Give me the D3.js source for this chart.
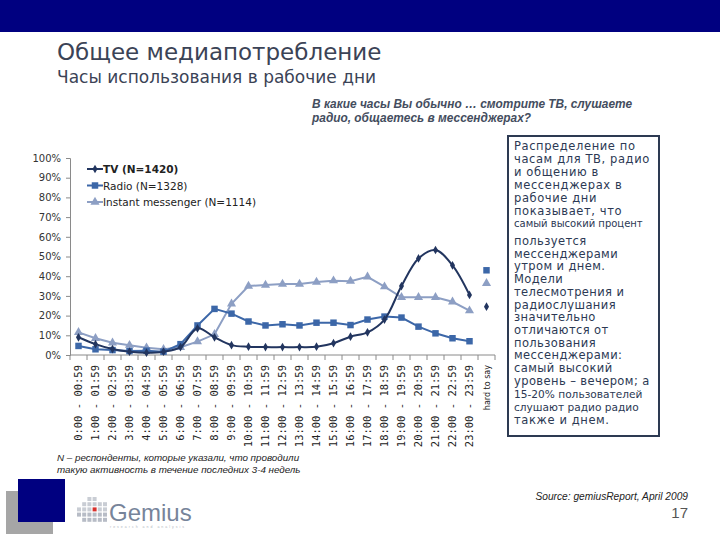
<!DOCTYPE html>
<html>
<head>
<meta charset="utf-8">
<script src="https://cdn.jsdelivr.net/npm/d3@7"></script>
<style>
  body { margin: 0; background: #fff; }
  svg { display: block; font-family: "DejaVu Sans", Verdana, sans-serif; }
</style>
</head>
<body>
<div id="chart"></div>
<script>
// categories (24 hours + "hard to say")
var hours = ["0:00 - 00:59", "1:00 - 01:59", "2:00 - 02:59", "3:00 - 03:59", "4:00 - 04:59",
  "5:00 - 05:59", "6:00 - 06:59", "7:00 - 07:59", "8:00 - 08:59", "9:00 - 09:59",
  "10:00 - 10:59", "11:00 - 11:59", "12:00 - 12:59", "13:00 - 13:59", "14:00 - 14:59",
  "15:00 - 15:59", "16:00 - 16:59", "17:00 - 17:59", "18:00 - 18:59", "19:00 - 19:59",
  "20:00 - 20:59", "21:00 - 21:59", "22:00 - 22:59", "23:00 - 23:59"]
var hardToSay = "hard to say"

var tvValues    = [9, 5.5, 3, 1.7, 1.2, 1.7, 4, 13.5, 9, 5, 4.2, 4, 4, 4, 4.2, 6, 9.3, 11.5, 18, 35, 49, 53.3, 45.5, 30.5]
var radioValues = [4.6, 2.9, 2.5, 2, 2.2, 1.7, 5.5, 15, 23.4, 21, 17, 15, 15.6, 15, 16.4, 16.4, 15.2, 18, 19.5, 19, 14.4, 11, 8.5, 7]
var imValues    = [11.5, 8.5, 6.2, 5, 3.7, 2.9, 3.9, 6.8, 10.5, 26, 35, 35.5, 36, 36, 37, 37.7, 37.5, 39.7, 34.7, 29.3, 29.3, 29.3, 27, 22.5]
var hardValues  = { tv: 24.5, radio: 43, im: 36.4 }

var yTicks = [0, 10, 20, 30, 40, 50, 60, 70, 80, 90, 100]

var series = [
  { key: "tv", name: "TV (N=1420)", values: tvValues, color: "#22355f", marker: "diamond", smooth: true },
  { key: "radio", name: "Radio (N=1328)", values: radioValues, color: "#3c67a8", marker: "square", smooth: false },
  { key: "im", name: "Instant messenger (N=1114)", values: imValues, color: "#8d9fc4", marker: "triangle", smooth: false }
]

var textLines = [
  "Распределение по", "часам для ТВ, радио", "и общению в", "мессенджерах в",
  "рабочие дни", "показывает, что"
]
var textSmall = "самый высокий процент"
var textLines2 = [
  "пользуется", "мессенджерами", "утром и днем.", "Модели", "телесмотрения и",
  "радиослушания", "значительно", "отличаются от", "пользования", "мессенджерами:",
  "самый высокий", "уровень – вечером; а"
]
var textLines3 = ["15-20% пользователей", "слушают радио радио"]
var textLast = "также и днем."

var W = 720, H = 540
var svg = d3.select("#chart").append("svg").attr("width", W).attr("height", H)

// header bar
svg.append("rect").attr("x", 0).attr("y", 0).attr("width", W).attr("height", 32).attr("fill", "#000080")

svg.append("text").attr("x", 57).attr("y", 60)
  .attr("font-size", 23).attr("fill", "#3b4356")
  .text("Общее медиапотребление")
svg.append("text").attr("x", 57).attr("y", 83)
  .attr("font-size", 17).attr("fill", "#3b4356")
  .text("Часы использования в рабочие дни")

var q = svg.append("g").attr("font-family", "'Liberation Sans', Arial, sans-serif")
  .attr("font-style", "italic").attr("font-weight", "bold").attr("font-size", 11.9).attr("fill", "#444d5e")
q.append("text").attr("x", 312).attr("y", 108).text("В какие часы Вы обычно … смотрите ТВ, слушаете")
q.append("text").attr("x", 312).attr("y", 122).text("радио, общаетесь в мессенджерах?")

// chart
var margin = { left: 70, top: 158 }
var plotW = 425, plotH = 197

var x = d3.scaleBand().domain(hours.concat([hardToSay])).range([margin.left, margin.left + plotW])
var y = d3.scaleLinear().domain([0, 100]).range([margin.top + plotH, margin.top])

var yAxis = svg.append("g")
  .attr("transform", "translate(" + margin.left + ",0)")
  .call(d3.axisLeft(y).tickValues(yTicks).tickSize(4).tickFormat(d => d + "%"))
yAxis.select(".domain").attr("stroke", "#8a8a8a")
yAxis.selectAll(".tick line").attr("stroke", "#8a8a8a")
yAxis.selectAll(".tick text").attr("font-family", "'DejaVu Sans', Verdana, sans-serif")
  .attr("font-size", 10).attr("fill", "#333").attr("x", -9)

var xAxisG = svg.append("g").attr("transform", "translate(0," + (margin.top + plotH) + ")")
xAxisG.append("line").attr("x1", margin.left).attr("x2", margin.left + plotW)
  .attr("stroke", "#8a8a8a")
var bounds = x.domain().map(d => x(d)).concat([margin.left + plotW])
xAxisG.selectAll(".xt").data(bounds).enter().append("line")
  .attr("x1", d => d).attr("x2", d => d).attr("y1", 0).attr("y2", 5).attr("stroke", "#8a8a8a")
xAxisG.selectAll(".xl").data(x.domain()).enter().append("text")
  .attr("transform", d => "translate(" + (x(d) + x.bandwidth() / 2 + 3.5) + ",10) rotate(-90)")
  .attr("text-anchor", "end")
  .attr("font-family", d => d == hardToSay ? "'DejaVu Sans', Verdana, sans-serif" : "'DejaVu Sans Mono', monospace")
  .attr("font-size", d => d == hardToSay ? 8 : 10.5)
  .attr("fill", "#222")
  .text(d => d)

function markerPath(type, size) {
  if (type == "diamond") return d3.symbol(d3.symbolDiamond, size)()
  if (type == "square") return d3.symbol(d3.symbolSquare, size)()
  return d3.symbol(d3.symbolTriangle, size)()
}
var markerSize = { diamond: 22, square: 42, triangle: 36 }

var cx = d => x(d) + x.bandwidth() / 2

series.slice().reverse().forEach(s => {
  var line = d3.line()
    .x((d, i) => cx(hours[i]))
    .y(d => y(d))
    .curve(s.smooth ? d3.curveCatmullRom.alpha(0.5) : d3.curveLinear)
  svg.append("path").datum(s.values)
    .attr("d", line).attr("fill", "none")
    .attr("stroke", s.color).attr("stroke-width", 2)
  svg.selectAll(".m-" + s.key).data(s.values).enter().append("path")
    .attr("d", markerPath(s.marker, markerSize[s.marker]))
    .attr("transform", (d, i) => "translate(" + cx(hours[i]) + "," + y(d) + ")")
    .attr("fill", s.color)
  svg.append("path")
    .attr("d", markerPath(s.marker, markerSize[s.marker]))
    .attr("transform", "translate(" + cx(hardToSay) + "," + y(hardValues[s.key]) + ")")
    .attr("fill", s.color)
})

// legend
var legend = svg.append("g").attr("transform", "translate(87,169)")
series.forEach((s, i) => {
  var g = legend.append("g").attr("transform", "translate(0," + (i * 16.5) + ")")
  g.append("line").attr("x1", 0).attr("x2", 16).attr("stroke", s.color).attr("stroke-width", 2)
  g.append("path").attr("d", markerPath(s.marker, markerSize[s.marker])).attr("transform", "translate(8,0)").attr("fill", s.color)
  g.append("text").attr("x", 16).attr("y", 4).attr("font-size", 10.5).attr("fill", "#222")
    .attr("font-weight", i == 0 ? "bold" : "normal")
    .text(s.name)
})

// text box
svg.append("rect").attr("x", 508).attr("y", 136).attr("width", 151).attr("height", 300)
  .attr("fill", "#fff").attr("stroke", "#2d3a52").attr("stroke-width", 2)
var tb = svg.append("g").attr("fill", "#2c3954").attr("font-size", 11.5)
textLines.forEach((t, i) => {
  tb.append("text").attr("x", 514).attr("y", 150 + i * 13).attr("letter-spacing", 0.6).text(t)
})
tb.append("text").attr("x", 514).attr("y", 227).attr("font-size", 10).text(textSmall)
textLines2.forEach((t, i) => {
  tb.append("text").attr("x", 514).attr("y", 245 + i * 12.7).attr("letter-spacing", 0.4).text(t)
})
textLines3.forEach((t, i) => {
  tb.append("text").attr("x", 514).attr("y", 398 + i * 12.7).attr("font-size", 10.6).text(t)
})
tb.append("text").attr("x", 514).attr("y", 424).attr("letter-spacing", 0.6).text(textLast)

// footnote
var fn = svg.append("g").attr("font-family", "'Liberation Sans', Arial, sans-serif")
  .attr("font-style", "italic").attr("font-size", 9.8).attr("fill", "#222")
fn.append("text").attr("x", 57).attr("y", 461).text("N – респонденты, которые указали, что проводили")
fn.append("text").attr("x", 57).attr("y", 473).text("такую активность в течение последних 3-4 недель")

svg.append("text").attr("x", 688).attr("y", 500).attr("text-anchor", "end")
  .attr("font-family", "'Liberation Sans', Arial, sans-serif").attr("font-style", "italic")
  .attr("font-size", 10.2).attr("fill", "#222").text("Source: gemiusReport, April 2009")
svg.append("text").attr("x", 688).attr("y", 518).attr("text-anchor", "end")
  .attr("font-family", "'Liberation Sans', Arial, sans-serif")
  .attr("font-size", 15).attr("fill", "#555").text("17")

// logo
svg.append("rect").attr("x", 6).attr("y", 491).attr("width", 47).attr("height", 43).attr("fill", "#a6a6a6")
svg.append("rect").attr("x", 18).attr("y", 479).attr("width", 47).attr("height", 43).attr("fill", "#000080")
var cols = [[2, 3], [1, 4], [0, 4], [0, 4], [1, 4], [1, 4]]
cols.forEach((c, ci) => {
  for (var r = c[0]; r <= c[1]; r++) {
    var red = (ci == 3 && r == 2)
    svg.append("rect").attr("x", 77 + ci * 5.2).attr("y", 497 + r * 5.2)
      .attr("width", 4).attr("height", 4)
      .attr("fill", red ? "#d8302c" : (r >= 3 ? "#b7bcc6" : "#c9cdd4"))
  }
})
svg.append("text").attr("x", 109).attr("y", 521)
  .attr("font-family", "'Liberation Sans', Arial, sans-serif")
  .attr("font-size", 24).attr("fill", "#77849a").text("Gemius")
svg.append("text").attr("x", 110).attr("y", 528)
  .attr("font-family", "'Liberation Sans', Arial, sans-serif")
  .attr("font-size", 3.5).attr("letter-spacing", 2).attr("fill", "#b0b6c0").text("research and analysis")
</script>
</body>
</html>
